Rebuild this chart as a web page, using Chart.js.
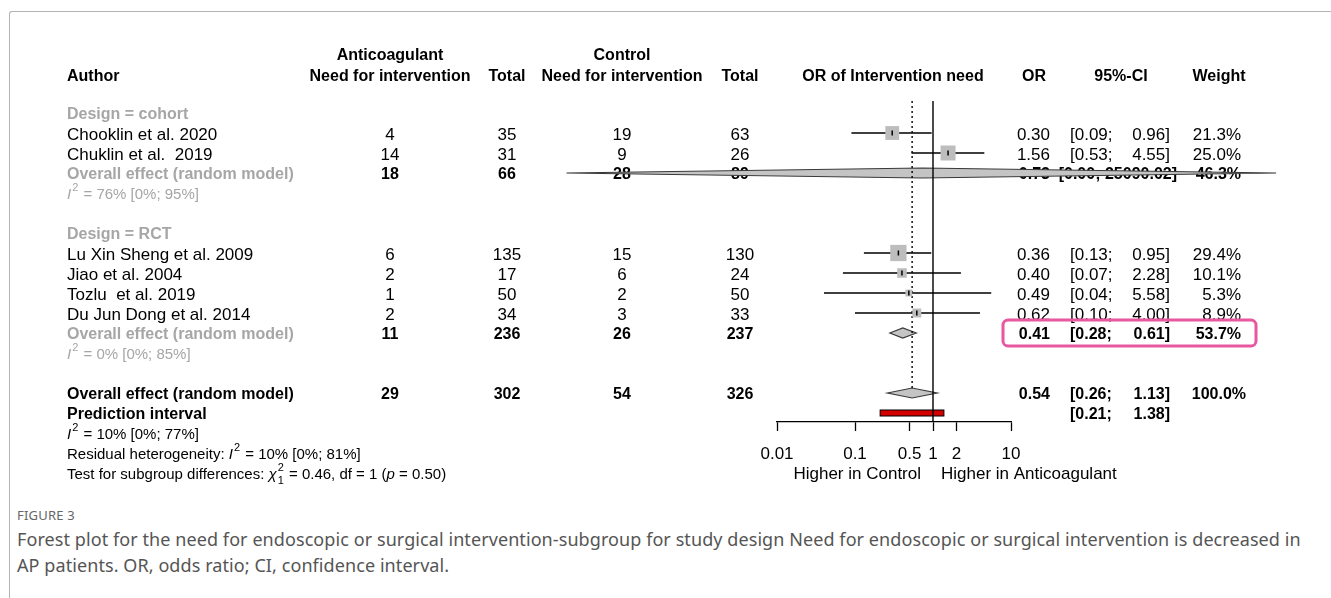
<!DOCTYPE html>
<html>
<head>
<meta charset="utf-8">
<script src="https://cdn.jsdelivr.net/npm/chart.js@4.4.1/dist/chart.umd.min.js"></script>
<style>
  body { margin: 0; background: #fff; }
  #wrap { position: relative; width: 1331px; height: 598px; overflow: hidden; }
  #frame { position: absolute; left: 9px; top: 10.5px; right: -4px; bottom: -4px;
           border-left: 1.5px solid #b4b4b4; border-top: 1.5px solid #b4b4b4; border-top-left-radius: 3px; }
  #plot { position: absolute; left: 0; top: 0; }
  .fig { position: absolute; left: 17px; top: 506px; font: 13px "Noto Sans", sans-serif; color: #666; letter-spacing: 0.2px; }
  .cap { position: absolute; left: 17px; top: 526px; font: 18px/26px "Noto Sans", sans-serif; color: #555; white-space: nowrap; letter-spacing: 0.08px; }
</style>
</head>
<body>
<div id="wrap">
  <div id="frame"></div>
  <canvas id="plot" width="1331" height="490"></canvas>
  <div class="fig">FIGURE 3</div>
  <div class="cap">Forest plot for the need for endoscopic or surgical intervention-subgroup for study design Need for endoscopic or surgical intervention is decreased in<br>AP patients. OR, odds ratio; CI, confidence interval.</div>
</div>
<script>
// studies
const studyLabels = ['Chooklin et al. 2020', 'Chuklin et al.  2019', 'Lu Xin Sheng et al. 2009', 'Jiao et al. 2004', 'Tozlu  et al. 2019', 'Du Jun Dong et al. 2014'];
const studyRows = [1, 2, 7, 8, 9, 10];
const eventsAnti = [4, 14, 6, 2, 1, 2];
const totalAnti = [35, 31, 135, 17, 50, 34];
const eventsCtrl = [19, 9, 15, 6, 2, 3];
const totalCtrl = [63, 26, 130, 24, 50, 33];
const oddsRatio = [0.30, 1.56, 0.36, 0.40, 0.49, 0.62];
const ciLower = [0.09, 0.53, 0.13, 0.07, 0.04, 0.10];
const ciUpper = [0.96, 4.55, 0.95, 2.28, 5.58, 4.00];
const weights = [21.3, 25.0, 29.4, 10.1, 5.3, 8.9];

// subgroup + overall summaries (cohort, RCT, overall)
const groupLabels = ['Design = cohort', 'Design = RCT'];
const groupRows = [0, 6];
const summaryRows = [3, 11, 14];
const summaryEventsAnti = [18, 11, 29];
const summaryTotalAnti = [66, 236, 302];
const summaryEventsCtrl = [28, 26, 54];
const summaryTotalCtrl = [89, 237, 326];
const summaryOR = [0.73, 0.41, 0.54];
const summaryLower = [0.00002, 0.28, 0.26];
const summaryUpper = [25090.02, 0.61, 1.13];
const summaryWeight = [46.3, 53.7, 100.0];
const hetRows = [4, 12];
const hetText = [' = 76% [0%; 95%]', ' = 0% [0%; 85%]'];

const predictionRow = 15;
const predictionInterval = [0.21, 1.38];

const tickValues = [0.01, 0.1, 0.5, 1, 2, 10];
const tickLabels = ['0.01', '0.1', '0.5', '1', '2', '10'];

const FONT = '"Liberation Sans", Arial, sans-serif';
const GREY = '#a6a6a6';
const REG = '17px ' + FONT;
const BOLD = 'bold 16px ' + FONT;
const DY = 2; // canvas 'middle' sits a bit high for this font

// column positions
const COL = { author: 67, evA: 390, totA: 507, evC: 622, totC: 740, or: 1050, ciL: 1070, ciU: 1170, w: 1241 };

function txt(ctx, s, x, y, align, font, color) {
  ctx.font = font;
  ctx.fillStyle = color || '#000';
  ctx.textAlign = align || 'left';
  ctx.textBaseline = 'middle';
  ctx.fillText(s, x, y + DY);
}

// text made of pieces: italic / superscript / subscript
function rich(ctx, parts, x, y, size, color) {
  ctx.textAlign = 'left';
  ctx.textBaseline = 'middle';
  ctx.fillStyle = color;
  let cx = x;
  y += DY;
  parts.forEach(p => {
    if (p.sup || p.sub) {
      ctx.font = Math.round(size * 0.7) + 'px ' + FONT;
      let w = 0;
      if (p.sup) { ctx.fillText(p.sup, cx + 1, y - size * 0.45); w = ctx.measureText(p.sup).width; }
      if (p.sub) { ctx.fillText(p.sub, cx + 1, y + size * 0.4); w = Math.max(w, ctx.measureText(p.sub).width); }
      cx += w + 2;
    } else {
      ctx.font = (p.it ? 'italic ' : '') + size + 'px ' + FONT;
      ctx.fillText(p.t, cx, y);
      cx += ctx.measureText(p.t).width;
    }
  });
}

const f2 = v => v.toFixed(2);

const tablePlugin = {
  id: 'table',
  beforeDatasetsDraw(chart) {
    const ctx = chart.ctx;
    const xs = chart.scales.x, ys = chart.scales.y;
    const rowY = r => ys.getPixelForValue(r);
    ctx.save();

    // header
    txt(ctx, 'Author', COL.author, 75, 'left', BOLD);
    txt(ctx, 'Anticoagulant', COL.evA, 54, 'center', BOLD);
    txt(ctx, 'Need for intervention', COL.evA, 75, 'center', BOLD);
    txt(ctx, 'Total', COL.totA, 75, 'center', BOLD);
    txt(ctx, 'Control', COL.evC, 54, 'center', BOLD);
    txt(ctx, 'Need for intervention', COL.evC, 75, 'center', BOLD);
    txt(ctx, 'Total', COL.totC, 75, 'center', BOLD);
    txt(ctx, 'OR of Intervention need', 893, 75, 'center', BOLD);
    txt(ctx, 'OR', 1034, 75, 'center', BOLD);
    txt(ctx, '95%-CI', 1121, 75, 'center', BOLD);
    txt(ctx, 'Weight', 1219, 75, 'center', BOLD);

    groupLabels.forEach((g, i) => txt(ctx, g, COL.author, rowY(groupRows[i]), 'left', BOLD, GREY));

    studyLabels.forEach((s, i) => {
      const y = rowY(studyRows[i]);
      txt(ctx, s, COL.author, y, 'left', REG);
      txt(ctx, String(eventsAnti[i]), COL.evA, y, 'center', REG);
      txt(ctx, String(totalAnti[i]), COL.totA, y, 'center', REG);
      txt(ctx, String(eventsCtrl[i]), COL.evC, y, 'center', REG);
      txt(ctx, String(totalCtrl[i]), COL.totC, y, 'center', REG);
      txt(ctx, f2(oddsRatio[i]), COL.or, y, 'right', REG);
      txt(ctx, '[' + f2(ciLower[i]) + ';', COL.ciL, y, 'left', REG);
      txt(ctx, f2(ciUpper[i]) + ']', COL.ciU, y, 'right', REG);
      txt(ctx, weights[i].toFixed(1) + '%', COL.w, y, 'right', REG);
    });

    summaryRows.forEach((r, i) => {
      const y = rowY(r);
      const last = i === summaryRows.length - 1;
      txt(ctx, 'Overall effect (random model)', COL.author, y, 'left', BOLD, last ? '#000' : GREY);
      txt(ctx, String(summaryEventsAnti[i]), COL.evA, y, 'center', BOLD);
      txt(ctx, String(summaryTotalAnti[i]), COL.totA, y, 'center', BOLD);
      txt(ctx, String(summaryEventsCtrl[i]), COL.evC, y, 'center', BOLD);
      txt(ctx, String(summaryTotalCtrl[i]), COL.totC, y, 'center', BOLD);
      txt(ctx, f2(summaryOR[i]), COL.or, y, 'right', BOLD);
      const up = f2(summaryUpper[i]) + ']';
      if (up.length > 5) {
        txt(ctx, '[' + f2(summaryLower[i]) + '; ' + up, 1177, y, 'right', BOLD);
      } else {
        txt(ctx, '[' + f2(summaryLower[i]) + ';', COL.ciL, y, 'left', BOLD);
        txt(ctx, up, COL.ciU, y, 'right', BOLD);
      }
      const wt = summaryWeight[i].toFixed(1) + '%';
      txt(ctx, wt, COL.w + (wt.length > 5 ? 5 : 0), y, 'right', BOLD);
    });

    hetRows.forEach((r, i) => rich(ctx, [{ t: 'I', it: true }, { sup: '2' }, { t: hetText[i] }], COL.author, rowY(r), 15, GREY));

    const py = rowY(predictionRow);
    txt(ctx, 'Prediction interval', COL.author, py, 'left', BOLD);
    txt(ctx, '[' + f2(predictionInterval[0]) + ';', COL.ciL, py, 'left', BOLD);
    txt(ctx, f2(predictionInterval[1]) + ']', COL.ciU, py, 'right', BOLD);

    rich(ctx, [{ t: 'I', it: true }, { sup: '2' }, { t: ' = 10% [0%; 77%]' }], COL.author, rowY(16), 15, '#000');
    rich(ctx, [{ t: 'Residual heterogeneity: ' }, { t: 'I', it: true }, { sup: '2' }, { t: ' = 10% [0%; 81%]' }], COL.author, rowY(17), 15, '#000');
    rich(ctx, [{ t: 'Test for subgroup differences: ' }, { t: 'χ', it: true }, { sup: '2', sub: '1' },
      { t: ' = 0.46, df = 1 (' }, { t: 'p', it: true }, { t: ' = 0.50)' }], COL.author, rowY(18), 15, '#000');

    // axis side labels
    const x1 = xs.getPixelForValue(1);
    txt(ctx, 'Higher in Control', x1 - 12, 472, 'right', REG);
    txt(ctx, 'Higher in Anticoagulant', x1 + 8, 472, 'left', REG);

    // diamonds (drawn over the text, under the lines)
    summaryRows.forEach((r, i) => {
      const y = rowY(r), h = 5;
      const lo = xs.getPixelForValue(summaryLower[i]);
      const mid = xs.getPixelForValue(summaryOR[i]);
      const hi = xs.getPixelForValue(summaryUpper[i]);
      ctx.beginPath();
      ctx.moveTo(lo, y); ctx.lineTo(mid, y - h); ctx.lineTo(hi, y); ctx.lineTo(mid, y + h); ctx.closePath();
      ctx.fillStyle = '#c4c4c4';
      ctx.fill();
      ctx.lineWidth = 1.2;
      ctx.strokeStyle = '#3a3a3a';
      ctx.stroke();
    });

    // prediction interval bar
    const pl = xs.getPixelForValue(predictionInterval[0]);
    const pr = xs.getPixelForValue(predictionInterval[1]);
    ctx.fillStyle = '#d40000';
    ctx.fillRect(pl, py - 3, pr - pl, 6);
    ctx.lineWidth = 1;
    ctx.strokeStyle = '#000';
    ctx.strokeRect(pl, py - 3, pr - pl, 6);
    ctx.restore();
  },
  afterDraw(chart) {
    // highlight around the RCT summary
    const ctx = chart.ctx;
    const y = chart.scales.y.getPixelForValue(summaryRows[1]);
    ctx.save();
    ctx.strokeStyle = '#e8579f';
    ctx.lineWidth = 3;
    ctx.beginPath();
    ctx.roundRect(1003, y - 13, 253, 26, 5);
    ctx.stroke();
    ctx.restore();
  }
};

// CI segments separated by gaps
const ciData = [];
studyRows.forEach((r, i) => {
  ciData.push({ x: ciLower[i], y: r }, { x: ciUpper[i], y: r }, { x: ciUpper[i], y: null });
});
const pointData = studyRows.map((r, i) => ({ x: oddsRatio[i], y: r }));

new Chart(document.getElementById('plot'), {
  type: 'scatter',
  data: {
    datasets: [
      { data: pointData, pointStyle: 'line', pointRotation: 90, pointRadius: 2.5, borderColor: '#000', borderWidth: 1.5, order: 1 },
      { data: pointData, pointStyle: 'rect', pointRadius: weights.map(w => 3 * Math.sqrt(w) / Math.SQRT2),
        backgroundColor: '#bdbdbd', borderWidth: 0, order: 2 },
      { data: ciData, showLine: true, borderColor: '#000', borderWidth: 1.3, pointRadius: 0, spanGaps: false, order: 3 },
      { data: [{ x: 1, y: -0.6 }, { x: 1, y: 15.45 }], showLine: true, borderColor: '#000', borderWidth: 1.4, pointRadius: 0, order: 4 },
      { data: [{ x: summaryOR[2], y: -0.6 }, { x: summaryOR[2], y: summaryRows[2] - 0.25 }], showLine: true,
        borderColor: '#000', borderWidth: 1.4, borderDash: [2, 3], pointRadius: 0, order: 5 }
    ]
  },
  options: {
    responsive: false,
    animation: false,
    devicePixelRatio: 1,
    layout: { padding: { left: 777, right: 320, top: 101, bottom: 28 } },
    plugins: { legend: { display: false }, tooltip: { enabled: false } },
    scales: {
      x: {
        type: 'logarithmic',
        min: 0.01,
        max: 10,
        afterBuildTicks: scale => { scale.ticks = tickValues.map(v => ({ value: v })); },
        afterFit: scale => { scale.height = 40; },
        ticks: {
          autoSkip: false, maxRotation: 0, padding: 13, color: '#000',
          font: { family: FONT, size: 17 },
          callback: (val, i) => tickLabels[i]
        },
        grid: { drawOnChartArea: false, drawTicks: true, tickLength: 9, tickColor: '#000', tickWidth: 1.3 },
        border: { display: true, color: '#000', width: 1.3 }
      },
      y: { display: false, reverse: true, min: -0.6, max: 15.45 }
    }
  },
  plugins: [tablePlugin]
});
</script>
</body>
</html>
